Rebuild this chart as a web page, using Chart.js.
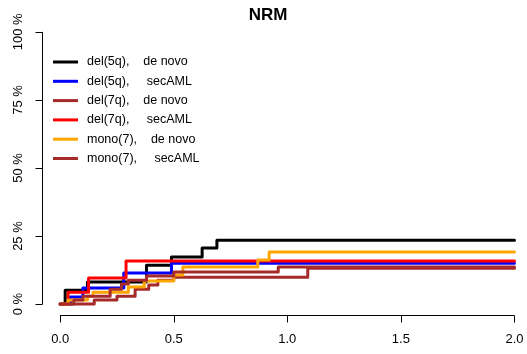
<!DOCTYPE html>
<html>
<head>
<meta charset="utf-8">
<script src="https://cdn.jsdelivr.net/npm/chart.js@4.4.0/dist/chart.umd.min.js"></script>
<style>
  html, body { margin: 0; padding: 0; background: #fff; overflow: hidden; }
</style>
</head>
<body>
<canvas id="nrm" width="527" height="354"></canvas>
<script>
// cumulative incidence of non-relapse mortality, time in years / percent
var del5qDeNovoT = [0, 0.022, 0.12, 0.38, 0.49, 0.625, 0.69, 2.0];
var del5qDeNovoP = [0, 5.1, 8.1, 14.3, 17.3, 20.6, 23.5, 23.5];

var del5qSecT = [0, 0.045, 0.10, 0.28, 0.49, 2.0];
var del5qSecP = [0, 2.6, 5.9, 11.4, 15.0, 15.0];

var del7qDeNovoT = [0, 0.15, 0.25, 0.33, 0.39, 0.43, 0.50, 1.09, 2.0];
var del7qDeNovoP = [0, 1.5, 2.9, 5.5, 7.0, 8.8, 9.9, 13.2, 13.2];

var del7qSecT = [0, 0.035, 0.125, 0.29, 2.0];
var del7qSecP = [0, 4.4, 9.6, 15.8, 15.8];

var mono7DeNovoT = [0, 0.035, 0.12, 0.145, 0.30, 0.37, 0.50, 0.54, 0.87, 0.92, 2.0];
var mono7DeNovoP = [0, 1.5, 2.9, 4.4, 6.3, 8.5, 10.7, 13.6, 16.2, 19.1, 19.1];

var mono7SecT = [0, 0.06, 0.10, 0.22, 0.27, 0.30, 0.38, 0.50, 0.96, 2.0];
var mono7SecP = [0, 1.5, 2.9, 5.5, 7.4, 8.8, 10.3, 11.8, 13.6, 13.6];

var legendLabels = [
  'del(5q),    de novo',
  'del(5q),     secAML',
  'del(7q),    de novo',
  'del(7q),     secAML',
  'mono(7),    de novo',
  'mono(7),     secAML'
];
var xTicks = [0, 0.5, 1, 1.5, 2];
var xTickLabels = ['0.0', '0.5', '1.0', '1.5', '2.0'];
var yTicks = [0, 25, 50, 75, 100];
var yTickLabels = ['0 %', '25 %', '50 %', '75 %', '100 %'];

var colors = ['#000000', '#0000ff', '#a52a2a', '#ff0000', '#ffa500', '#a52a2a'];

function pts(t, p) {
  return t.map(function (v, i) { return { x: v, y: p[i] }; });
}

var curves = [
  pts(del5qDeNovoT, del5qDeNovoP),
  pts(del5qSecT, del5qSecP),
  pts(del7qDeNovoT, del7qDeNovoP),
  pts(del7qSecT, del7qSecP),
  pts(mono7DeNovoT, mono7DeNovoP),
  pts(mono7SecT, mono7SecP)
];

var datasets = curves.map(function (d, i) {
  return {
    label: legendLabels[i],
    data: d,
    borderColor: colors[i],
    borderWidth: 3,
    pointRadius: 0,
    stepped: 'before',
    fill: false,
    borderCapStyle: 'round',
    borderJoinStyle: 'round',
    order: curves.length - i   // later curves on top, like base graphics
  };
});

// R-style axes, title and legend
var baseAxes = {
  id: 'baseAxes',
  afterDraw: function (chart) {
    var ctx = chart.ctx;
    var xs = chart.scales.x, ys = chart.scales.y;
    var area = chart.chartArea;
    ctx.save();
    ctx.strokeStyle = '#000';
    ctx.fillStyle = '#000';
    ctx.lineWidth = 1;

    // x axis
    var ay = Math.round(area.bottom) + 0.5;
    ctx.beginPath();
    ctx.moveTo(xs.getPixelForValue(xTicks[0]), ay);
    ctx.lineTo(xs.getPixelForValue(xTicks[xTicks.length - 1]), ay);
    xTicks.forEach(function (v) {
      var px = Math.round(xs.getPixelForValue(v)) + 0.5;
      ctx.moveTo(px, ay);
      ctx.lineTo(px, ay + 7);
    });
    ctx.stroke();
    ctx.font = '13px "Liberation Sans", Arial, sans-serif';
    ctx.textAlign = 'center';
    ctx.textBaseline = 'middle';
    xTicks.forEach(function (v, i) {
      ctx.fillText(xTickLabels[i], xs.getPixelForValue(v), ay + 24);
    });

    // y axis
    var ax = Math.round(area.left) + 0.5;
    ctx.beginPath();
    ctx.moveTo(ax, ys.getPixelForValue(yTicks[0]));
    ctx.lineTo(ax, ys.getPixelForValue(yTicks[yTicks.length - 1]));
    yTicks.forEach(function (v) {
      var py = Math.round(ys.getPixelForValue(v)) + 0.5;
      ctx.moveTo(ax, py);
      ctx.lineTo(ax - 7, py);
    });
    ctx.stroke();
    yTicks.forEach(function (v, i) {
      ctx.save();
      ctx.translate(ax - 24, ys.getPixelForValue(v));
      ctx.rotate(-Math.PI / 2);
      ctx.fillText(yTickLabels[i], 0, 0);
      ctx.restore();
    });

    // title
    ctx.font = 'bold 17px "Liberation Sans", Arial, sans-serif';
    ctx.fillText('NRM', 268, 15);

    // legend
    ctx.font = '12.5px "Liberation Sans", Arial, sans-serif';
    ctx.textAlign = 'left';
    chart.data.datasets.forEach(function (ds, i) {
      var ry = 62 + i * 19.3;
      ctx.strokeStyle = ds.borderColor;
      ctx.lineWidth = 3;
      ctx.beginPath();
      ctx.moveTo(53, ry);
      ctx.lineTo(78, ry);
      ctx.stroke();
      ctx.fillStyle = '#000';
      ctx.fillText(ds.label, 87, ry);
    });
    ctx.restore();
  }
};

var chart = new Chart(document.getElementById('nrm'), {
  type: 'line',
  data: { datasets: datasets },
  options: {
    responsive: false,
    animation: false,
    devicePixelRatio: 1,
    layout: { padding: { left: 42, right: 8, top: 21, bottom: 39 } },
    scales: {
      x: { type: 'linear', min: -0.08, max: 2.02, display: false },
      y: { type: 'linear', min: -4, max: 104, display: false }
    },
    plugins: {
      legend: { display: false },
      title: { display: false },
      tooltip: { enabled: false }
    }
  },
  plugins: [baseAxes]
});
</script>
</body>
</html>
